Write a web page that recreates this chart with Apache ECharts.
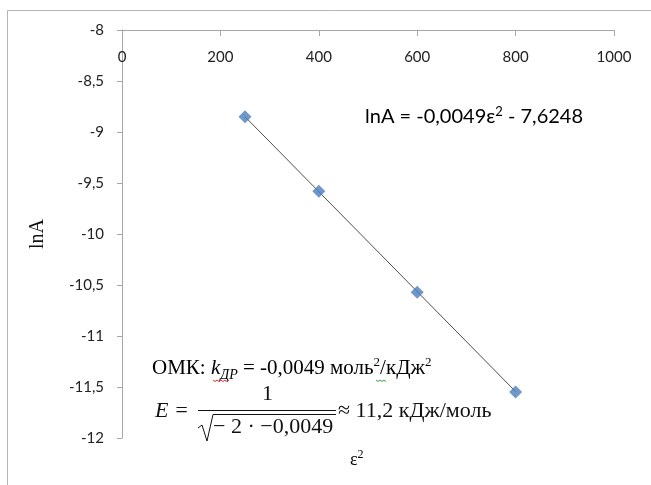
<!DOCTYPE html>
<html>
<head>
<meta charset="utf-8">
<script src="https://cdn.jsdelivr.net/npm/echarts@6/dist/echarts.min.js"></script>
<style>
  html, body { margin: 0; padding: 0; background: #fff; }
  #chart { width: 651px; height: 485px; }
</style>
</head>
<body>
<div id="chart"></div>
<script>
// Dubinin–Radushkevich plot: ln A versus ε²
const epsSquared = [250, 400, 600, 800];
const lnA = [-8.85, -9.58, -10.57, -11.55];

// Linear fit reported on the plot
const slope = -0.0049;
const intercept = -7.6248;
const fitRange = [250, 800];

const xTicks = { min: 0, max: 1000, step: 200 };
const yTicks = { min: -12, max: -8, step: 0.5 };

const comma = v => String(v).replace('.', ',');

const points = epsSquared.map((x, i) => [x, lnA[i]]);
const fitLine = fitRange.map(x => [x, slope * x + intercept]);

const axisGray = '#a6a6a6';
const labelFont = 'Lato, "Open Sans", sans-serif';
const serif = '"Liberation Serif", "DejaVu Serif", serif';

// small zigzag used for the proofing underlines in the annotation
function squiggle(x0, x1, y, color) {
  const pts = [];
  for (let x = x0, up = true; x <= x1; x += 2, up = !up) pts.push([x, up ? y : y + 1.5]);
  return { type: 'polyline', shape: { points: pts }, style: { stroke: color, lineWidth: 1, fill: null } };
}

const chart = echarts.init(document.getElementById('chart'), null, { renderer: 'canvas' });

chart.setOption({
  animation: false,
  backgroundColor: '#fff',
  grid: { left: 122, top: 30, width: 492, height: 408, containLabel: false },
  xAxis: {
    type: 'value',
    position: 'top',
    min: xTicks.min, max: xTicks.max, interval: xTicks.step,
    axisLine: { show: true, onZero: false, lineStyle: { color: axisGray, width: 1 } },
    axisTick: { show: true, inside: true, length: 6, lineStyle: { color: axisGray } },
    axisLabel: { inside: true, margin: 20, color: '#222', fontFamily: labelFont, fontSize: 15, formatter: v => String(v) },
    splitLine: { show: false }
  },
  yAxis: {
    type: 'value',
    min: yTicks.min, max: yTicks.max, interval: yTicks.step,
    name: 'lnA',
    nameLocation: 'middle',
    nameRotate: 90,
    nameGap: 74,
    nameTextStyle: { fontFamily: serif, fontSize: 20, color: '#111' },
    axisLine: { show: true, onZero: false, lineStyle: { color: axisGray, width: 1 } },
    axisTick: { show: true, length: 5, lineStyle: { color: axisGray } },
    axisLabel: { margin: 18, color: '#222', fontFamily: labelFont, fontSize: 15, formatter: v => comma(v) },
    splitLine: { show: false }
  },
  series: [
    {
      type: 'line',
      data: fitLine,
      symbol: 'none',
      lineStyle: { color: '#4d4d4d', width: 1 },
      z: 1
    },
    {
      type: 'scatter',
      data: points,
      symbol: 'diamond',
      symbolSize: 13,
      itemStyle: { color: '#4a7ebb' },
      z: 2
    }
  ],
  graphic: [
    // chart area frame
    { type: 'rect', shape: { x: 7.5, y: 10.5, width: 700, height: 500 },
      style: { fill: null, stroke: '#b5b5b5', lineWidth: 1 }, z: -1 },
    // trendline equation
    { type: 'text', left: 365, top: 103,
      style: {
        text: '{n|lnA = ' + comma(slope) + 'ε}{s|2}{n| - ' + comma(-intercept) + '}',
        rich: {
          n: { fontFamily: labelFont, fontSize: 20, color: '#111', lineHeight: 24, verticalAlign: 'bottom' },
          s: { fontFamily: labelFont, fontSize: 13, color: '#111', lineHeight: 24, verticalAlign: 'top', padding: [2, 0, 0, 0] }
        }
      } },
    // x axis title
    { type: 'text', left: 350, top: 447,
      style: {
        text: '{n|ε}{s|2}',
        rich: {
          n: { fontFamily: serif, fontSize: 18, color: '#111', lineHeight: 22, verticalAlign: 'bottom' },
          s: { fontFamily: serif, fontSize: 12, color: '#111', lineHeight: 22, verticalAlign: 'top', padding: [2, 0, 0, 0] }
        }
      } },
    // rate constant line
    { type: 'text', left: 152, top: 355,
      style: {
        text: '{n|ОМК: }{i|k}{sub|ДР}{n| = -0,0049 моль}{s|2}{n|/кДж}{s|2}',
        rich: {
          n: { fontFamily: serif, fontSize: 21, color: '#111', lineHeight: 24, verticalAlign: 'bottom' },
          i: { fontFamily: serif, fontSize: 21, fontStyle: 'italic', color: '#111', lineHeight: 24, verticalAlign: 'bottom' },
          sub: { fontFamily: serif, fontSize: 14, fontStyle: 'italic', color: '#111', lineHeight: 24, verticalAlign: 'bottom', padding: [0, 0, -3, 0] },
          s: { fontFamily: serif, fontSize: 13, color: '#111', lineHeight: 24, verticalAlign: 'top', padding: [1, 0, 0, 0] }
        }
      } },
    squiggle(213, 229, 380, '#e03030'),
    squiggle(376, 386, 380, '#3aa03a'),
    // energy formula: E = 1 / sqrt(-2 · k) ≈ 11,2 кДж/моль
    { type: 'text', left: 155, top: 400,
      style: { text: 'E =', fontFamily: serif, fontSize: 22, fontStyle: 'italic', fill: '#111' } },
    { type: 'text', left: 262, top: 383,
      style: { text: '1', fontFamily: serif, fontSize: 22, fill: '#111' } },
    { type: 'line', shape: { x1: 198, y1: 410.5, x2: 336, y2: 410.5 },
      style: { stroke: '#111', lineWidth: 1 } },
    { type: 'polyline',
      shape: { points: [[198, 428], [202, 425], [207, 441], [213, 414.5], [336, 414.5]] },
      style: { stroke: '#111', lineWidth: 1, fill: null } },
    { type: 'text', left: 213, top: 416,
      style: { text: '− 2 · −0,0049', fontFamily: serif, fontSize: 22, fill: '#111' } },
    { type: 'text', left: 338, top: 400,
      style: { text: '≈ 11,2 кДж/моль', fontFamily: serif, fontSize: 22, fill: '#111' } }
  ]
});
</script>
</body>
</html>
